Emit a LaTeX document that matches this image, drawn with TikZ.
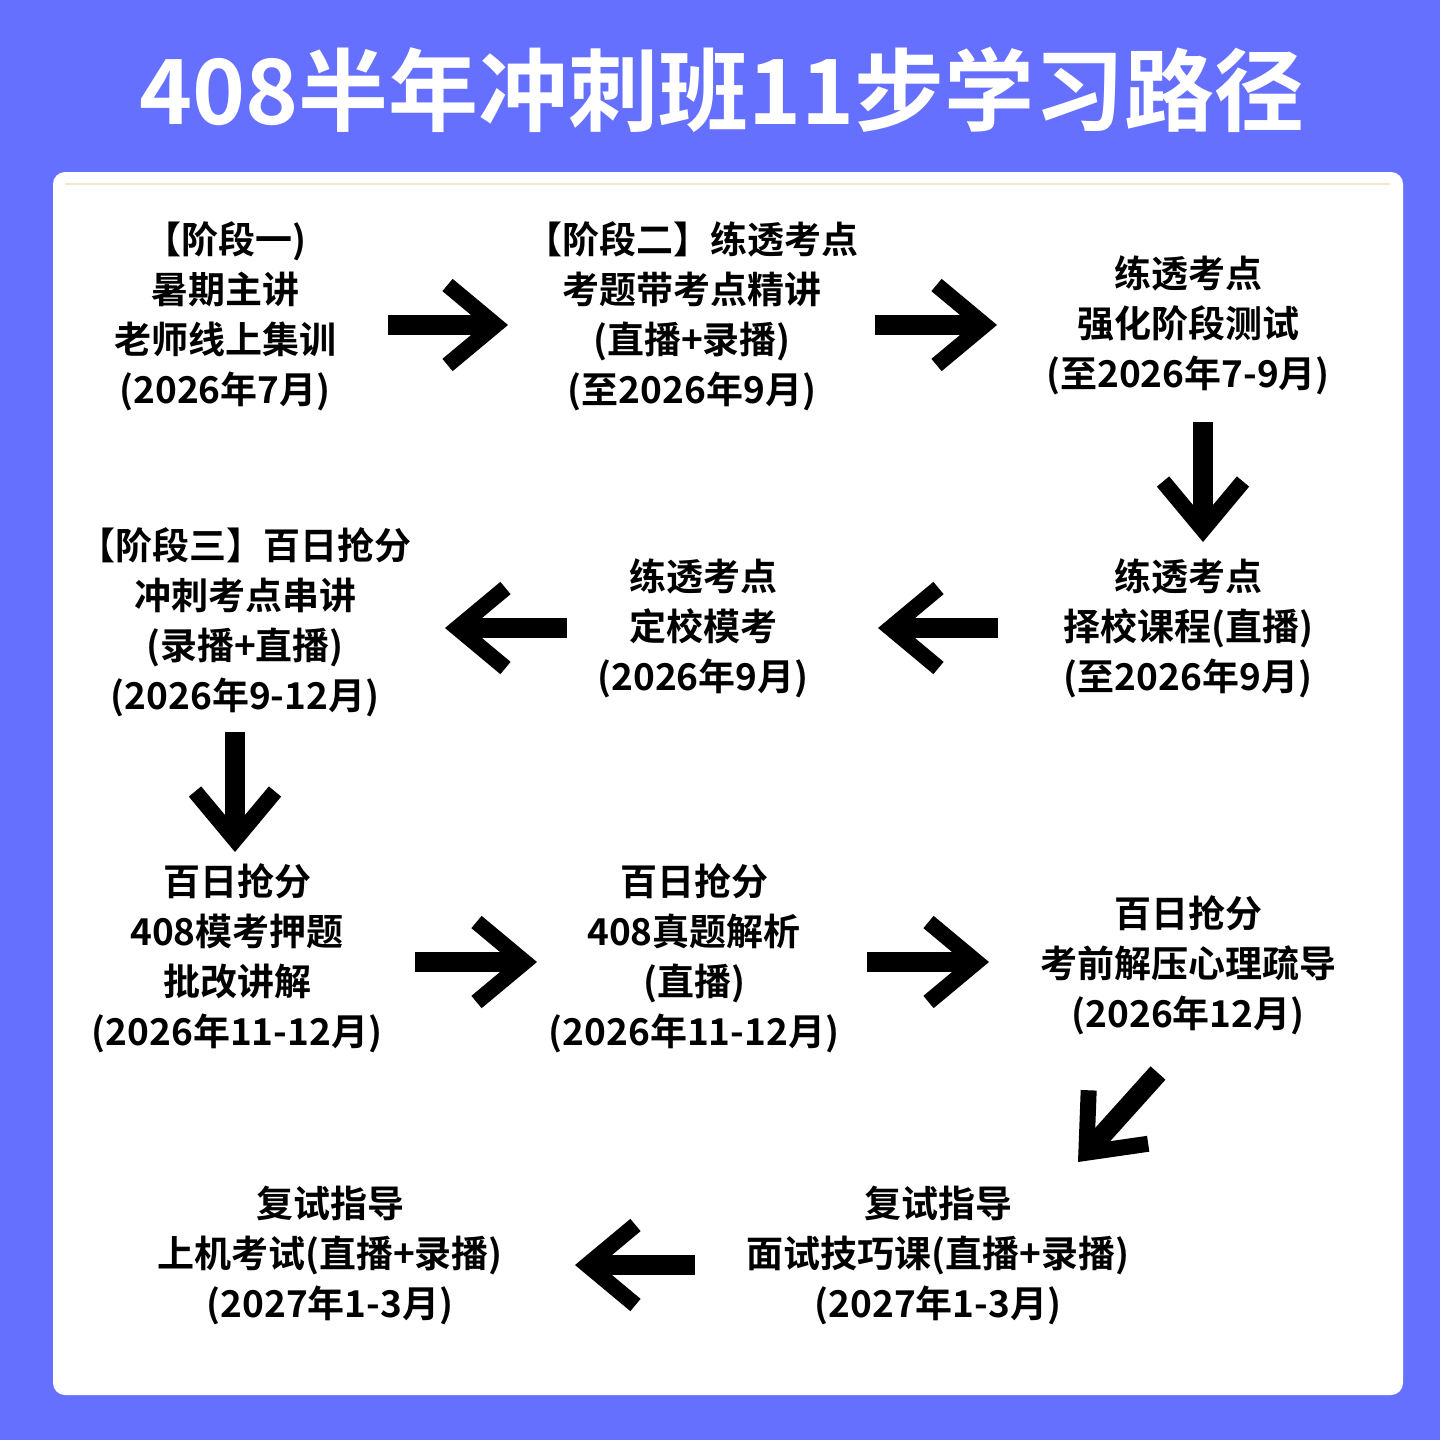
\documentclass[tikz,border=0pt]{standalone}
\usepackage{fontspec}
\setmainfont{Noto Sans CJK SC}[BoldFont={* Bold}]
\usetikzlibrary{arrows.meta}
\definecolor{bgblue}{RGB}{102,112,255}
\definecolor{paleline}{RGB}{240,230,200}
\begin{document}
\begin{tikzpicture}[x=0.5pt,y=-0.5pt,
  txt/.style={align=center,font=\fontsize{18.5pt}{25pt}\selectfont\bfseries,text=black},
  arr/.style={line width=10pt,-{Straight Barb[length=24pt,width=40pt,line width=8pt]}}]
\useasboundingbox (0,0) rectangle (1440,1440);
\fill[bgblue] (0,0) rectangle (1440,1440);
\fill[white,rounded corners=6pt] (53,172) rectangle (1403,1395);
\draw[line width=0.8pt,paleline] (65,184) -- (1390,184);
\node[font=\fontsize{45pt}{50pt}\selectfont\bfseries,text=white] (title) at (722,90) {408半年冲刺班11步学习路径};
\node[txt] (n1) at (225,316) {【阶段一)\\暑期主讲\\老师线上集训\\(2026年7月)};
\node[txt] (n2) at (692,316) {【阶段二】练透考点\\考题带考点精讲\\(直播+录播)\\(至2026年9月)};
\node[txt] (n3) at (1188,325) {练透考点\\强化阶段测试\\(至2026年7-9月)};
\node[txt] (n4) at (1188,628) {练透考点\\择校课程(直播)\\(至2026年9月)};
\node[txt] (n5) at (703,628) {练透考点\\定校模考\\(2026年9月)};
\node[txt] (n6) at (245,622) {【阶段三】百日抢分\\冲刺考点串讲\\(录播+直播)\\(2026年9-12月)};
\node[txt] (n7) at (237,958) {百日抢分\\408模考押题\\批改讲解\\(2026年11-12月)};
\node[txt] (n8) at (694,958) {百日抢分\\408真题解析\\(直播)\\(2026年11-12月)};
\node[txt] (n9) at (1188,965) {百日抢分\\考前解压心理疏导\\(2026年12月)};
\node[txt] (n10) at (938,1255) {复试指导\\面试技巧课(直播+录播)\\(2027年1-3月)};
\node[txt] (n11) at (330,1255) {复试指导\\上机考试(直播+录播)\\(2027年1-3月)};
\coordinate (a1s) at (388,325); \coordinate (a1e) at (508,325);
\coordinate (a2s) at (875,325); \coordinate (a2e) at (997,325);
\coordinate (a3s) at (1203,422); \coordinate (a3e) at (1203,542);
\coordinate (a4s) at (998,628); \coordinate (a4e) at (878,628);
\coordinate (a5s) at (567,628); \coordinate (a5e) at (445,628);
\coordinate (a6s) at (235,732); \coordinate (a6e) at (235,852);
\coordinate (a7s) at (415,962); \coordinate (a7e) at (537,962);
\coordinate (a8s) at (867,962); \coordinate (a8e) at (989,962);
\coordinate (a9s) at (1158,1073); \coordinate (a9e) at (1078,1162);
\coordinate (a10s) at (695,1265); \coordinate (a10e) at (575,1265);
\foreach \i in {1,...,10} \draw[arr] (a\i s) -- (a\i e);
\end{tikzpicture}
\end{document}
